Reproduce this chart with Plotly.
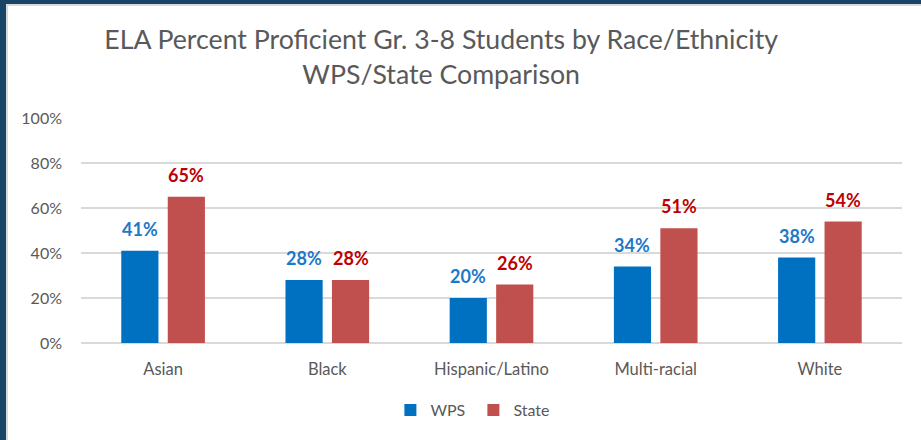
import plotly.graph_objects as go

categories = ["Asian", "Black", "Hispanic/Latino", "Multi-racial", "White"]
wps_values = [0.41, 0.28, 0.20, 0.34, 0.38]
state_values = [0.65, 0.28, 0.26, 0.51, 0.54]
y_ticks = [0, 0.2, 0.4, 0.6, 0.8, 1.0]
y_tick_labels = ["0%", "20%", "40%", "60%", "80%", "100%"]

FONT = "Lato, Calibri, Arial, sans-serif"
W, H = 921, 440
L, R, T, B = 81, 19, 118, 97
pw, ph = W - L - R, H - T - B


def px_x(px):
    return (px - L) / pw


def px_y(py):
    return (H - B - py) / ph


fig = go.Figure()
fig.add_trace(go.Bar(
    name="WPS", x=categories, y=wps_values,
    marker=dict(color="#0070C0", line=dict(width=0)),
))
fig.add_trace(go.Bar(
    name="State", x=categories, y=state_values,
    marker=dict(color="#C0504D", line=dict(width=0)),
))

# data labels above bars
slot_px = pw / len(categories) * (1 - 0.434) / 2
annotations = []
for vals, color, shift in ((wps_values, "#1E78C8", -slot_px / 2), (state_values, "#C00000", slot_px / 2)):
    for c, v in zip(categories, vals):
        annotations.append(dict(
            x=c, y=v, xref="x", yref="y", text=f"{round(v*100)}%", showarrow=False,
            xshift=shift, yshift=9, yanchor="bottom", xanchor="center",
            font=dict(family=FONT, size=18, color=color, weight="bold"),
        ))

shapes = [
    dict(type="rect", xref="paper", yref="paper", x0=px_x(0), x1=px_x(W), y0=px_y(4), y1=px_y(0),
         fillcolor="#1A4466", line=dict(width=0), layer="above"),
    dict(type="rect", xref="paper", yref="paper", x0=px_x(0), x1=px_x(6), y0=px_y(H), y1=px_y(0),
         fillcolor="#1A4466", line=dict(width=0), layer="above"),
    dict(type="rect", xref="paper", yref="paper", x0=px_x(6), x1=px_x(W), y0=px_y(6), y1=px_y(4),
         fillcolor="#D9D9D9", line=dict(width=0), layer="above"),
    dict(type="rect", xref="paper", yref="paper", x0=px_x(6), x1=px_x(8), y0=px_y(H), y1=px_y(4),
         fillcolor="#D9D9D9", line=dict(width=0), layer="above"),
]

fig.update_layout(
    width=W, height=H,
    margin=dict(l=L, r=R, t=T, b=B, pad=0, autoexpand=False),
    paper_bgcolor="white", plot_bgcolor="white",
    barmode="group", bargap=0.434, bargroupgap=0.2,
    title=dict(
        text="ELA Percent Proficient Gr. 3-8 Students by Race/Ethnicity<br>WPS/State Comparison",
        x=0.479, xanchor="center", xref="container",
        y=0.889, yanchor="middle", yref="container",
        font=dict(family=FONT, size=26.7, color="#595959"),
    ),
    font=dict(family=FONT, color="#595959"),
    xaxis=dict(
        showgrid=False, showline=False, ticks="",
        tickfont=dict(family=FONT, size=16.5, color="#595959"),
        ticklabelstandoff=14,
    ),
    yaxis=dict(
        range=[0, 1.0], tickvals=y_ticks, ticktext=y_tick_labels,
        showgrid=True, gridcolor="#D9D9D9", gridwidth=1.5,
        zeroline=True, zerolinecolor="#D9D9D9", zerolinewidth=1.5,
        showline=False, ticks="",
        tickfont=dict(family=FONT, size=16, color="#595959"),
        ticklabelstandoff=18,
    ),
    legend=dict(
        orientation="h", xref="container", yref="container",
        x=0.514, xanchor="center", y=1 - 410 / H, yanchor="middle",
        font=dict(family=FONT, size=16, color="#595959"),
        itemwidth=30, traceorder="normal",
        entrywidth=38, entrywidthmode="pixels",
    ),
    annotations=annotations,
    shapes=shapes,
)

fig.write_html(
    "out.html",
    config={"displayModeBar": False},
    post_script="document.body.style.margin='0';document.body.style.overflow='hidden';",
)
